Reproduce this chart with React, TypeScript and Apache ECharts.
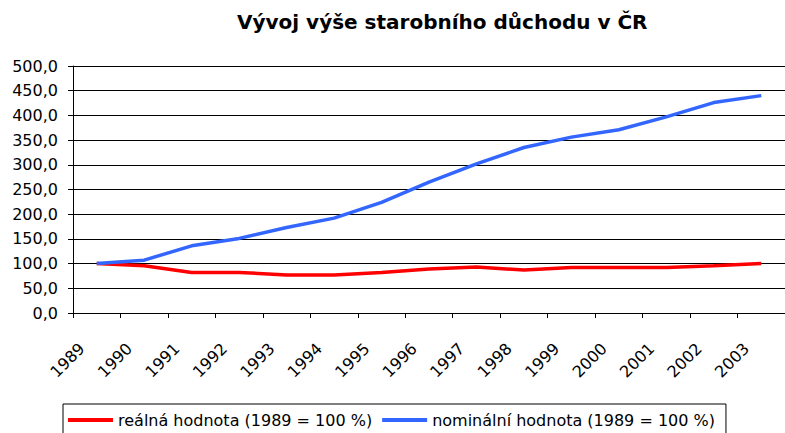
import React, { useEffect, useRef } from "react";
import * as echarts from "echarts";

const titleText = "Vývoj výše starobního důchodu v ČR";
const years = ["1989","1990","1991","1992","1993","1994","1995","1996","1997","1998","1999","2000","2001","2002","2003"];
const realName = "reálná hodnota (1989 = 100 %)";
const nominalName = "nominální hodnota (1989 = 100 %)";
const realValues = [100, 95.5, 82, 82, 77, 77, 82, 89, 93, 87, 92, 92, 92, 95.5, 100];
const nominalValues = [100, 107, 136, 151, 173, 192, 224, 265, 302, 335, 356, 371, 397, 426, 440];
const yMin = 0;
const yMax = 500;
const yStep = 50;

const FONT = "DejaVu Sans";

export default function App() {
  const ref = useRef<HTMLDivElement>(null);
  useEffect(() => {
    if (!ref.current) return;
    const chart = echarts.init(ref.current, undefined, { renderer: "svg" });
    chart.setOption({
      animation: false,
      backgroundColor: "#ffffff",
      textStyle: { fontFamily: FONT },
      title: {
        text: titleText,
        left: 237,
        top: 12,
        padding: 0,
        textStyle: { fontFamily: FONT, fontSize: 20, fontWeight: "bold", color: "#000" },
      },
      grid: { left: 73, top: 66, right: -5, bottom: 120, containLabel: false },
      xAxis: {
        type: "category",
        data: years,
        boundaryGap: true,
        axisLine: { lineStyle: { color: "#000", width: 1 } },
        axisTick: { show: true, length: 5, lineStyle: { color: "#000" } },
        axisLabel: {
          rotate: 45,
          margin: 18,
          padding: [0, 21, 0, 0],
          fontFamily: FONT,
          fontSize: 16,
          color: "#000",
          interval: 0,
        },
        splitLine: { show: false },
      },
      yAxis: {
        type: "value",
        min: yMin,
        max: yMax,
        interval: yStep,
        axisLine: { show: true, lineStyle: { color: "#000", width: 1 } },
        axisTick: { show: true, length: 5, lineStyle: { color: "#000" } },
        axisLabel: {
          margin: 15,
          fontFamily: FONT,
          fontSize: 16,
          color: "#000",
          formatter: (v: number) => v.toFixed(1).replace(".", ","),
        },
        splitLine: { show: true, lineStyle: { color: "#000", width: 1 } },
      },
      legend: {
        top: 404,
        left: 63,
        orient: "horizontal",
        borderColor: "#000",
        borderWidth: 1,
        padding: [8, 11, 10, 5],
        itemGap: 10,
        itemWidth: 45,
        itemHeight: 4,
        icon: "rect",
        textStyle: { fontFamily: FONT, fontSize: 16, color: "#000" },
        data: [realName, nominalName],
      },
      series: [
        {
          name: realName,
          type: "line",
          data: realValues,
          symbol: "none",
          lineStyle: { color: "#ff0000", width: 3.5 },
          itemStyle: { color: "#ff0000" },
        },
        {
          name: nominalName,
          type: "line",
          data: nominalValues,
          symbol: "none",
          lineStyle: { color: "#3366ff", width: 3.5 },
          itemStyle: { color: "#3366ff" },
        },
      ],
    });
    return () => chart.dispose();
  }, []);
  return (
    <div
      ref={ref}
      style={{ position: "absolute", left: 0, top: 0, width: 785, height: 433 }}
    />
  );
}
